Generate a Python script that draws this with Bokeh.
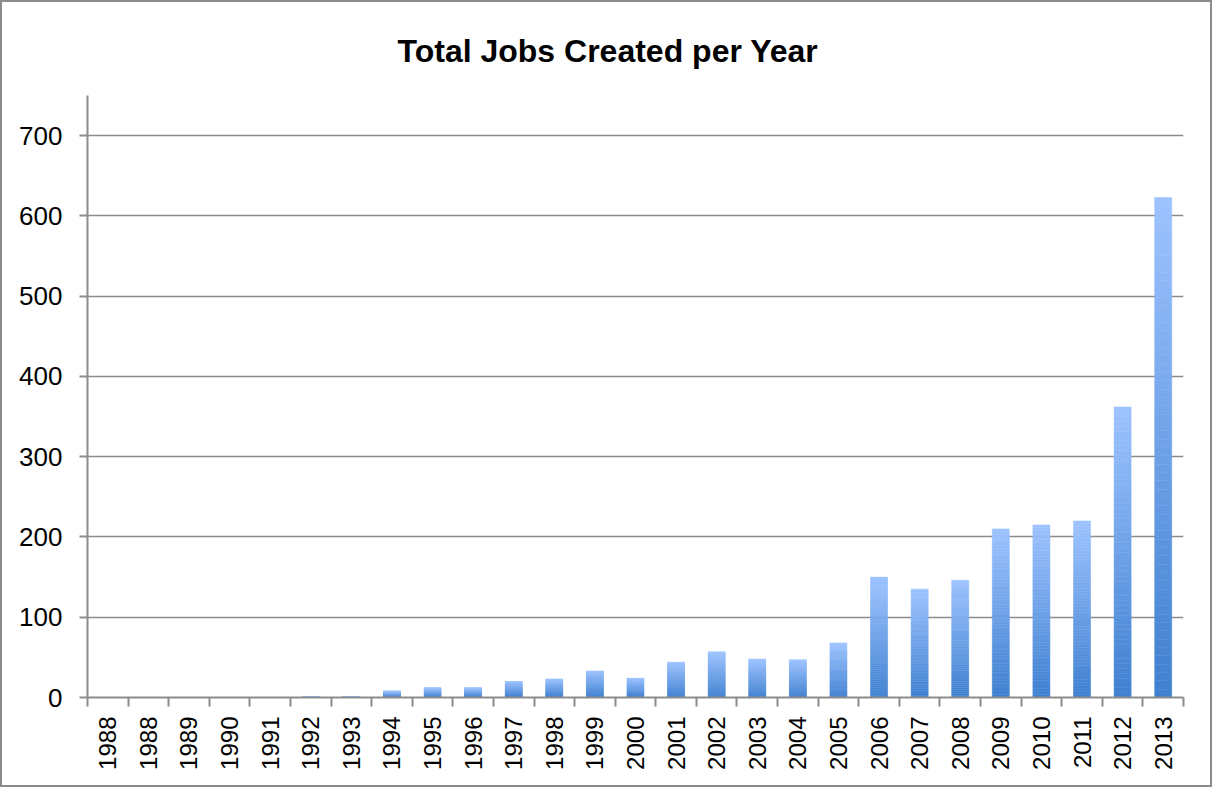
import numpy as np
from bokeh.plotting import figure
from bokeh.models import FixedTicker, Range1d, ColumnDataSource
from bokeh.embed import file_html
from bokeh.resources import INLINE

# ---- data ----
title_text = "Total Jobs Created per Year"
years = ["1988", "1988", "1989", "1990", "1991", "1992", "1993", "1994", "1995",
         "1996", "1997", "1998", "1999", "2000", "2001", "2002", "2003", "2004",
         "2005", "2006", "2007", "2008", "2009", "2010", "2011", "2012", "2013"]
jobs = [0, 0, 0, 0, 0, 1, 1, 8, 12, 12, 20, 23, 33, 24, 44, 57, 48, 47,
        68, 150, 135, 146, 210, 215, 220, 362, 623]
y_ticks = [0, 100, 200, 300, 400, 500, 600, 700]

W, H = 1212, 787
p = figure(width=W, height=H, output_backend="svg", toolbar_location=None,
           x_range=Range1d(0, len(years)), y_range=Range1d(0, 750),
           min_border_left=85, min_border_right=31, min_border_top=93,
           min_border_bottom=92)

p.title.text = title_text
p.title.align = "left"
p.title.offset = 310
p.title.vertical_align = "top"
p.title.text_font = "Liberation Sans"
p.title.text_font_size = "32px"
p.title.text_font_style = "bold"
p.title.text_color = "black"
p.title.standoff = 50

# gradient bars: each bar split into thin slices, colour from dark (bottom) to light (top)
c_bot = np.array([63, 128, 208])
c_top = np.array([157, 195, 255])
N = 60
xs, bots, tops, cols = [], [], [], []
for i, v in enumerate(jobs):
    if v <= 0:
        continue
    for k in range(N):
        f0, f1 = k / N, (k + 1) / N
        t = (f0 + f1) / 2
        c = c_bot + (c_top - c_bot) * t
        xs.append(i + 0.5)
        bots.append(v * f0)
        tops.append(v * f1)
        cols.append("#%02x%02x%02x" % tuple(int(round(a)) for a in c))
src = ColumnDataSource(dict(x=xs, bottom=bots, top=tops, color=cols))
p.vbar(x="x", bottom="bottom", top="top", width=0.42, fill_color="color",
       line_color="color", line_width=0.5, source=src)

# axes
p.xaxis.ticker = FixedTicker(ticks=[i + 0.5 for i in range(len(years))],
                             minor_ticks=list(range(len(years) + 1)))
p.xaxis.major_label_overrides = {i + 0.5: y for i, y in enumerate(years)}
p.xaxis.major_label_orientation = np.pi / 2
p.xaxis.major_tick_out = 0
p.xaxis.major_tick_in = 0
p.xaxis.minor_tick_out = 9
p.xaxis.minor_tick_in = 0
p.xaxis.minor_tick_line_color = "#8c8c8c"
p.xaxis.axis_line_color = "#8c8c8c"
p.xaxis.axis_line_width = 2
p.xaxis.minor_tick_line_width = 2
p.xaxis.major_label_text_font = "Liberation Sans"
p.xaxis.major_label_text_font_size = "24px"
p.xaxis.major_label_text_color = "black"
p.xaxis.major_label_standoff = 10

p.yaxis.ticker = FixedTicker(ticks=y_ticks)
p.yaxis.major_tick_out = 8
p.yaxis.major_tick_in = 0
p.yaxis.minor_tick_out = 0
p.yaxis.minor_tick_in = 0
p.yaxis.major_tick_line_color = "#8c8c8c"
p.yaxis.major_tick_line_width = 2
p.yaxis.axis_line_color = "#8c8c8c"
p.yaxis.axis_line_width = 2
p.yaxis.major_label_text_font = "Liberation Sans"
p.yaxis.major_label_text_font_size = "26px"
p.yaxis.major_label_text_color = "black"
p.yaxis.major_label_standoff = 17

p.xgrid.grid_line_color = None
p.ygrid.ticker = FixedTicker(ticks=y_ticks)
p.ygrid.grid_line_color = "#8c8c8c"
p.ygrid.grid_line_width = 1.5

p.outline_line_color = None
p.background_fill_color = "white"
p.border_fill_color = "white"
p.styles = {"border": "2px solid #8c8c8c", "box-sizing": "border-box"}

open("out.html", "w").write(file_html(p, INLINE))
